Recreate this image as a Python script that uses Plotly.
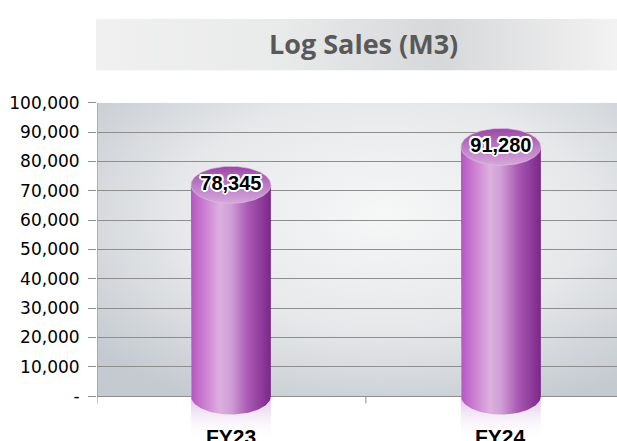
import base64
import numpy as np
import plotly.graph_objects as go

# ---------------- data ----------------
categories = ["FY23", "FY24"]
sales = [78345, 91280]
y_tickvals = [0, 10000, 20000, 30000, 40000, 50000, 60000, 70000, 80000, 90000, 100000]
y_ticktext = ["-", "10,000", "20,000", "30,000", "40,000", "50,000",
              "60,000", "70,000", "80,000", "90,000", "100,000"]
title_text = "Log Sales (M3)"

# ---------------- geometry / style ----------------
W, H = 617, 441
def px(x):
    return x / W
def py(y):
    return (H - y) / H

X_RANGE = [-0.496, 1.430]
Y_RANGE = [-15333, 100000]
HALF_W = 0.148        # cylinder half width (x units)
ELL_H = 6300          # ellipse half height (y units)

def svg_uri(svg):
    return "data:image/svg+xml;base64," + base64.b64encode(svg.encode()).decode()

bg_svg = ("<svg xmlns='http://www.w3.org/2000/svg' width='520' height='300' viewBox='0 0 520 300' preserveAspectRatio='none'>"
          "<defs><radialGradient id='g' cx='0.55' cy='0.38' r='0.72'>"
          "<stop offset='0' stop-color='#f6f7f7'/><stop offset='0.55' stop-color='#e6e8ea'/>"
          "<stop offset='1' stop-color='#c4cad0'/></radialGradient></defs>"
          "<rect width='520' height='300' fill='url(#g)'/></svg>")
title_svg = ("<svg xmlns='http://www.w3.org/2000/svg' width='521' height='53' viewBox='0 0 521 53' preserveAspectRatio='none'>"
             "<defs><linearGradient id='t' x1='0' y1='0' x2='1' y2='0'>"
             "<stop offset='0' stop-color='#f0f0f0'/><stop offset='0.35' stop-color='#e9eaea'/>"
             "<stop offset='0.66' stop-color='#d7d8da'/><stop offset='1' stop-color='#f2f2f2'/>"
             "</linearGradient></defs><rect width='521' height='53' fill='url(#t)'/></svg>")

body_scale = [[0, "#b456bf"], [0.12, "#c673ce"], [0.36, "#dcb0df"], [0.5, "#cf9fd5"],
              [0.72, "#a857b2"], [1, "#7b2789"]]
top_scale = [[0, "#d6a7db"], [0.5, "#bb7bc4"], [1, "#9a47a5"]]
refl_scale = [[0, "rgba(255,255,255,0)"], [1, "rgba(200,140,212,0.55)"]]

fig = go.Figure()

t_low = np.linspace(np.pi, 2 * np.pi, 60)
t_full = np.linspace(0, 2 * np.pi, 120)

for i, (cat, v) in enumerate(zip(categories, sales)):
    c = i
    top_c = v - ELL_H
    # reflection below floor
    fig.add_trace(go.Scatter(
        x=[c - HALF_W, c + HALF_W, c + HALF_W, c - HALF_W, c - HALF_W],
        y=[0, 0, Y_RANGE[0], Y_RANGE[0], 0],
        mode="lines", line=dict(width=0), fill="toself",
        fillgradient=dict(type="vertical", colorscale=refl_scale),
        hoverinfo="skip", showlegend=False))
    # body with rounded bottom
    bx = np.concatenate([[c - HALF_W], c + HALF_W * np.cos(t_low), [c + HALF_W, c - HALF_W]])
    by = np.concatenate([[top_c], ELL_H * np.sin(t_low), [top_c, top_c]])
    fig.add_trace(go.Scatter(
        x=bx, y=by, mode="lines", line=dict(width=0), fill="toself",
        fillgradient=dict(type="horizontal", colorscale=body_scale),
        hoverinfo="skip", showlegend=False))
    # top ellipse
    fig.add_trace(go.Scatter(
        x=c + HALF_W * np.cos(t_full), y=top_c + ELL_H * np.sin(t_full),
        mode="lines", line=dict(width=0.8, color="rgba(225,190,230,0.8)"), fill="toself",
        fillgradient=dict(type="vertical", colorscale=top_scale),
        hoverinfo="skip", showlegend=False))

# value labels
outline = ", ".join(f"{dx}px {dy}px 0 #ffffff" for dx, dy in
                    [(-1.5, -1.5), (1.5, -1.5), (-1.5, 1.5), (1.5, 1.5), (0, 2), (0, -2), (2, 0), (-2, 0)])
fig.add_trace(go.Scatter(
    x=list(range(len(categories))), y=[v - ELL_H for v in sales],
    text=[f"{v:,}" for v in sales], mode="text",
    textfont=dict(family="Liberation Sans", size=20, color="#000000", weight="bold", shadow=outline),
    hoverinfo="skip", showlegend=False))

# category labels
for i, cat in enumerate(categories):
    fig.add_annotation(x=i, y=py(423), xref="x", yref="paper", text=cat, showarrow=False,
                       yanchor="top", font=dict(family="Liberation Sans", size=21, color="#000000", weight="bold"))

# title
fig.add_annotation(x=px(363), y=py(34), xref="paper", yref="paper", text=title_text, showarrow=False,
                   xanchor="center", yanchor="middle",
                   font=dict(family="Open Sans", size=27, color="#595959", weight="bold"))

fig.update_layout(
    width=W, height=H, margin=dict(l=0, r=0, t=0, b=0),
    paper_bgcolor="#ffffff", plot_bgcolor="rgba(0,0,0,0)",
    images=[
        dict(source=svg_uri(bg_svg), xref="paper", yref="paper", x=px(97), y=py(95),
             sizex=px(617) - px(97), sizey=py(95) - py(395), xanchor="left", yanchor="top",
             sizing="stretch", layer="below"),
        dict(source=svg_uri(title_svg), xref="paper", yref="paper", x=px(96), y=py(9),
             sizex=px(617) - px(96), sizey=py(9) - py(62), xanchor="left", yanchor="top",
             sizing="stretch", layer="below"),
    ],
    xaxis=dict(domain=[px(97), 1], range=X_RANGE, showgrid=False, zeroline=False,
               showticklabels=False, ticks="", showline=False, fixedrange=True),
    yaxis=dict(domain=[0, py(95)], range=Y_RANGE, tickvals=y_tickvals, ticktext=y_ticktext,
               ticks="outside", ticklen=8, tickcolor="#8c8c8c", tickwidth=1,
               showgrid=True, gridcolor="#8e8e8e", gridwidth=1.2, zeroline=False, showline=False,
               tickfont=dict(family="DejaVu Sans", size=17, color="#000000"),
               ticklabelstandoff=5, fixedrange=True),
    shapes=[
        dict(type="line", xref="x", yref="y", x0=X_RANGE[0], x1=X_RANGE[0], y0=-2500, y1=100000,
             line=dict(color="#8c8c8c", width=1)),
        dict(type="line", xref="x", yref="y", x0=0.5, x1=0.5, y0=0, y1=-2500,
             line=dict(color="#8c8c8c", width=1)),
    ],
)

fig.write_html("out.html", config={"displayModeBar": False},
               post_script="document.body.style.margin='0';document.body.style.overflow='hidden';")
